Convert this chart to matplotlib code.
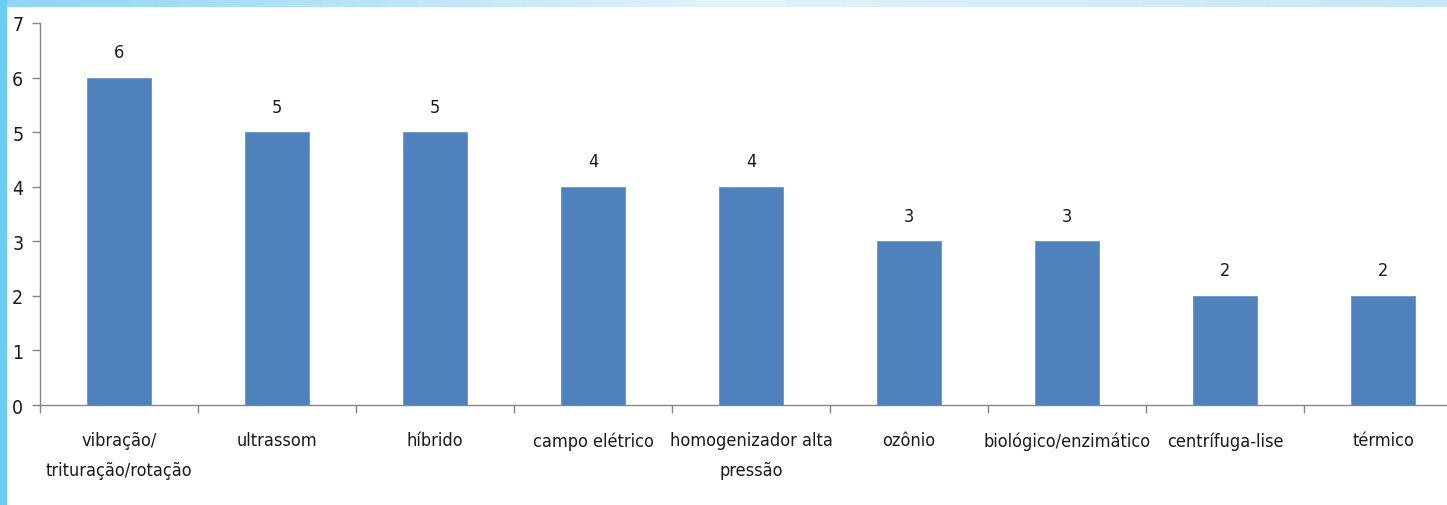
import matplotlib
matplotlib.use("Agg")
import matplotlib.pyplot as plt
from matplotlib.patches import Rectangle
from matplotlib.colors import LinearSegmentedColormap
import numpy as np

categories = ["vibração/\ntrituração/rotação", "ultrassom", "híbrido", "campo elétrico",
              "homogenizador alta\npressão", "ozônio", "biológico/enzimático",
              "centrífuga-lise", "térmico"]
values = [6, 5, 5, 4, 4, 3, 3, 2, 2]
yticks = [0, 1, 2, 3, 4, 5, 6, 7]

plt.rcParams['font.family'] = ['DejaVu Sans']
plt.rcParams['font.stretch'] = 'condensed'
FS = 13

fig = plt.figure(figsize=(14.47, 5.06), dpi=100)
fig.patch.set_facecolor('white')

# decorative frame: left stripe and top gradient band
bg = fig.add_axes([0, 0, 1, 1], zorder=-10)
bg.axis('off')
grad = np.linspace(0, 1, 256).reshape(1, -1)
cmap = LinearSegmentedColormap.from_list('g', ['#8fd6f5', '#e2f2fc', '#c6e6f8'])
bg.imshow(grad, extent=[0, 1, 1 - 8/506, 1], aspect='auto', cmap=cmap, zorder=1)
bg.add_patch(Rectangle((0, 0), 7/1447, 1, color='#6ccdf3', lw=0, zorder=2))
bg.set_xlim(0, 1); bg.set_ylim(0, 1)

ax = fig.add_axes([40/1447, 1 - 406/506, 1422/1447, (406 - 24)/506])
x = np.arange(len(categories))
ax.bar(x, values, width=0.4, color='#4f81bd', edgecolor='#6b95c9', linewidth=0.6, zorder=3)
for xi, v in zip(x, values):
    ax.text(xi, v + 0.3, str(v), ha='center', va='bottom', fontsize=FS, color='#1a1a1a')

ax.set_xlim(-0.5, len(categories) - 0.5)
ax.set_ylim(0, 7)
ax.set_yticks(yticks)
ax.set_yticklabels([str(t) for t in yticks], fontsize=FS + 1, color='#1a1a1a')
ax.set_xticks(np.arange(len(categories) + 1) - 0.5)
ax.set_xticklabels([])
ax.set_xticks(x, minor=True)
ax.set_xticklabels(categories, minor=True, fontsize=FS, color='#1a1a1a', linespacing=1.8)
ax.tick_params(axis='x', which='minor', length=0, pad=19)
ax.tick_params(axis='x', which='major', length=6, color='#868686', width=1, direction='out')
ax.tick_params(axis='y', length=6, color='#868686', width=1, direction='out', pad=6)
for s in ['top', 'right']:
    ax.spines[s].set_visible(False)
for s in ['left', 'bottom']:
    ax.spines[s].set_color('#868686')
    ax.spines[s].set_linewidth(1)

fig.savefig('out.png', dpi=100, facecolor='white')
